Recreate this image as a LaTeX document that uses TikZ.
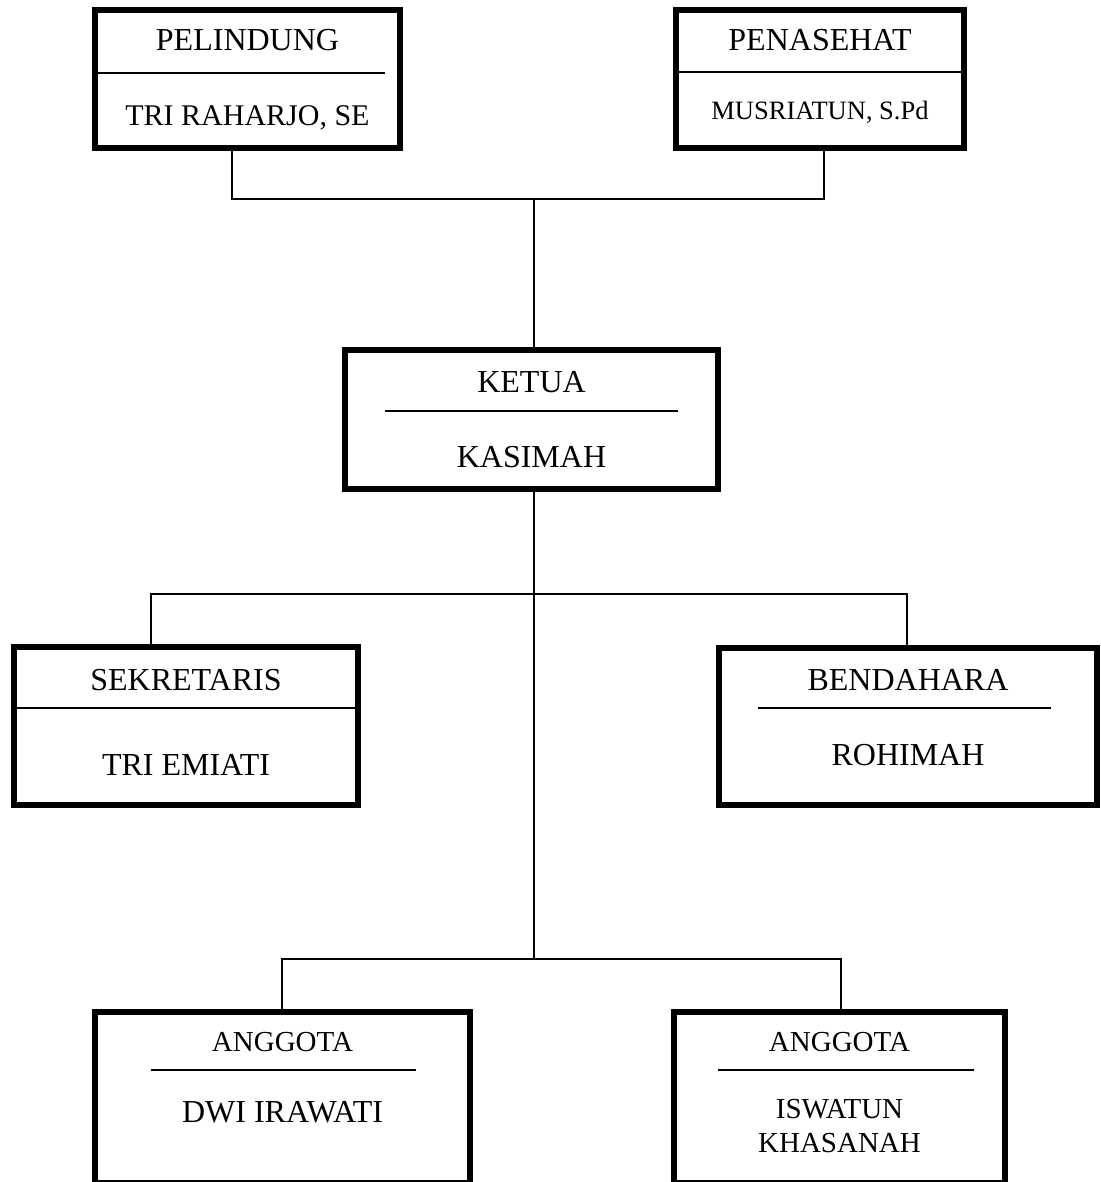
\documentclass[tikz,border=0pt]{standalone}
\usepackage{fontspec}
\setmainfont{Liberation Serif}
\begin{document}
\begin{tikzpicture}[x=1pt,y=-1pt,
  orgbox/.style={draw=black,line width=5.5pt,rectangle,inner sep=0pt,fill=none},
  conn/.style={draw=black,line width=2.8pt},
  divline/.style={draw=black,line width=2.5pt},
  lbl/.style={anchor=base,inner sep=0pt,text=black},
  big/.style={font=\fontsize{32}{36}\selectfont},
  mid/.style={font=\fontsize{30}{34}\selectfont},
  small/.style={font=\fontsize{29}{33}\selectfont},
  tiny/.style={font=\fontsize{26.5}{30}\selectfont}]
\useasboundingbox (0,0) rectangle (1100,1182);
\fill[white] (0,0) rectangle (1100,1182);

% boxes
\node[orgbox,minimum width=305pt,minimum height=138pt] (pel) at (247.5,79) {};
\node[orgbox,minimum width=288pt,minimum height=138pt] (pen) at (820,79) {};
\node[orgbox,minimum width=373pt,minimum height=139pt] (ket) at (531.5,419.5) {};
\node[orgbox,minimum width=344pt,minimum height=158pt] (sek) at (186,726) {};
\node[orgbox,minimum width=378pt,minimum height=157pt] (ben) at (908,726.5) {};
\node[orgbox,minimum width=375pt,minimum height=171pt] (ang1) at (282.5,1097.5) {};
\node[orgbox,minimum width=331pt,minimum height=171pt] (ang2) at (839.5,1097.5) {};

% dividers
\draw[divline] (97,73) -- (385,73);
\draw[divline] (pen.west |- 0,72) -- (pen.east |- 0,72);
\draw[divline] (385,411) -- (678,411);
\draw[divline] (sek.west |- 0,708) -- (sek.east |- 0,708);
\draw[divline] (758,708) -- (1051,708);
\draw[divline] (151,1070) -- (416,1070);
\draw[divline] (718,1070) -- (974,1070);

% labels
\node[lbl,big] (pelT) at (247.5,51) {PELINDUNG};
\node[lbl,mid] (pelN) at (247.5,126) {TRI RAHARJO, SE};
\node[lbl,big] (penT) at (820,51) {PENASEHAT};
\node[lbl,tiny] (penN) at (820,120) {MUSRIATUN, S.Pd};
\node[lbl,big] (ketT) at (531.5,392) {KETUA};
\node[lbl,big] (ketN) at (531.5,467) {KASIMAH};
\node[lbl,big] (sekT) at (186,690) {SEKRETARIS};
\node[lbl,big] (sekN) at (186,775) {TRI EMIATI};
\node[lbl,big] (benT) at (908,690) {BENDAHARA};
\node[lbl,big] (benN) at (908,765) {ROHIMAH};
\node[lbl,small] (a1T) at (282.5,1051) {ANGGOTA};
\node[lbl,big] (a1N) at (282.5,1122) {DWI IRAWATI};
\node[lbl,small] (a2T) at (839.5,1051) {ANGGOTA};
\node[lbl,small] (a2N) at (839.5,1118) {ISWATUN};
\node[lbl,small] (a2M) at (839.5,1152) {KHASANAH};

% junctions
\coordinate (jA) at (232,199);
\coordinate (jB) at (824,199);
\coordinate (jC) at (534,199);
\coordinate (jD) at (534,594);
\coordinate (jE) at (151,594);
\coordinate (jF) at (907,594);
\coordinate (jG) at (534,959);
\coordinate (jH) at (282,959);
\coordinate (jI) at (841,959);

% connectors
\draw[conn] (pel.south -| jA) -- (jA) -- (jB) -- (pen.south -| jB);
\draw[conn] (jC) -- (ket.north -| jC);
\draw[conn] (ket.south -| jD) -- (jG);
\draw[conn] (sek.north -| jE) -- (jE) -- (jF) -- (ben.north -| jF);
\draw[conn] (ang1.north -| jH) -- (jH) -- (jI) -- (ang2.north -| jI);
\end{tikzpicture}
\end{document}
